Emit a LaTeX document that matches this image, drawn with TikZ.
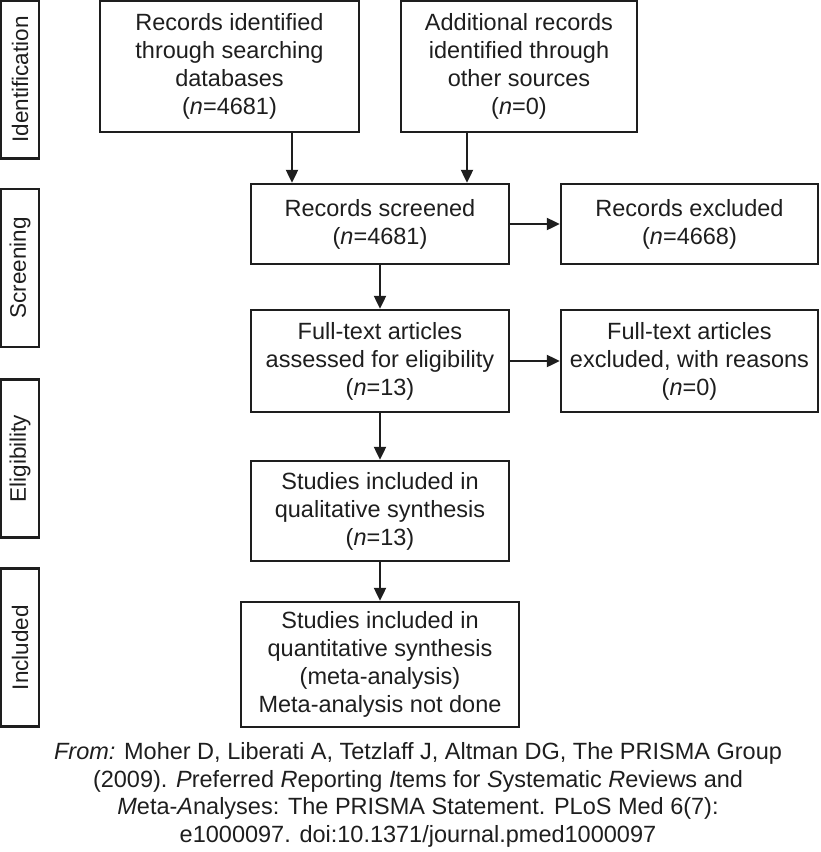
\documentclass[tikz,border=0pt]{standalone}
\usepackage{fontspec}
\setmainfont{Liberation Sans}
\usetikzlibrary{arrows.meta}
\definecolor{ink}{HTML}{1E1E1E}
\begin{document}
\begin{tikzpicture}[x=1pt,y=-1pt,
  every node/.style={font=\fontsize{23.5}{28}\selectfont, text=ink},
  box/.style={draw=ink, line width=2.4pt, align=center, inner sep=0pt},
  side/.style={box, minimum width=38pt, minimum height=158pt},
  sidetext/.style={rotate=90, font=\fontsize{22.5}{27}\selectfont},
  arr/.style={draw=ink, line width=2.2pt, -{Triangle[length=13pt,width=12pt]}}]
\useasboundingbox (0,0) rectangle (820,852);
% side labels
\node[side] (sid) at (20,79.5) {};
\node[sidetext] at (sid.center) {Identification};
\node[side] (sscr) at (20,268) {};
\node[sidetext] at (sscr.center) {Screening};
\node[side] (selig) at (20,458.5) {};
\node[sidetext] at (selig.center) {Eligibility};
\node[side] (sincl) at (20,647.5) {};
\node[sidetext] at (sincl.center) {Included};
% main boxes
\node[box, minimum width=259pt, minimum height=131pt] (b1) at (229.5,66.5)
  {Records identified\\through searching\\databases\\(\textit{n}=4681)};
\node[box, minimum width=236pt, minimum height=131pt] (b2) at (519,66.5)
  {Additional records\\identified through\\other sources\\(\textit{n}=0)};
\node[box, minimum width=258pt, minimum height=80pt] (scr) at (380,224)
  {Records screened\\(\textit{n}=4681)};
\node[box, minimum width=257pt, minimum height=80pt] (exc) at (689.5,224)
  {Records excluded\\(\textit{n}=4668)};
\node[box, minimum width=258pt, minimum height=102pt] (full) at (380,361)
  {Full-text articles\\assessed for eligibility\\(\textit{n}=13)};
\node[box, minimum width=257pt, minimum height=102pt] (fullex) at (689.5,361)
  {Full-text articles\\excluded, with reasons\\(\textit{n}=0)};
\node[box, minimum width=258pt, minimum height=100pt] (qual) at (380,511)
  {Studies included in\\qualitative synthesis\\(\textit{n}=13)};
\node[box, minimum width=278pt, minimum height=125pt] (quant) at (380,664.5)
  {Studies included in\\quantitative synthesis\\(meta-analysis)\\Meta-analysis not done};
% connectors
\draw[arr] ([xshift=62.5]b1.south) -- ([xshift=62.5]b1.south |- scr.north);
\draw[arr] ([xshift=-52]b2.south) -- ([xshift=-52]b2.south |- scr.north);
\draw[arr] (scr.east) -- (exc.west);
\draw[arr] (scr.south) -- (full.north);
\draw[arr] (full.east) -- (fullex.west);
\draw[arr] (full.south) -- (qual.north);
\draw[arr] (qual.south) -- (quant.north);
% citation
\node[align=center, font=\fontsize{23.5}{27.5}\selectfont] (cite) at (418,795)
  {\textit{From:} Moher D, Liberati A, Tetzlaff J, Altman DG, The PRISMA Group\\
   (2009). \textit{P}referred \textit{R}eporting \textit{I}tems for \textit{S}ystematic \textit{R}eviews and\\
   \textit{M}eta-\textit{A}nalyses: The PRISMA Statement. PLoS Med 6(7):\\
   e1000097. doi:10.1371/journal.pmed1000097};
\end{tikzpicture}
\end{document}
